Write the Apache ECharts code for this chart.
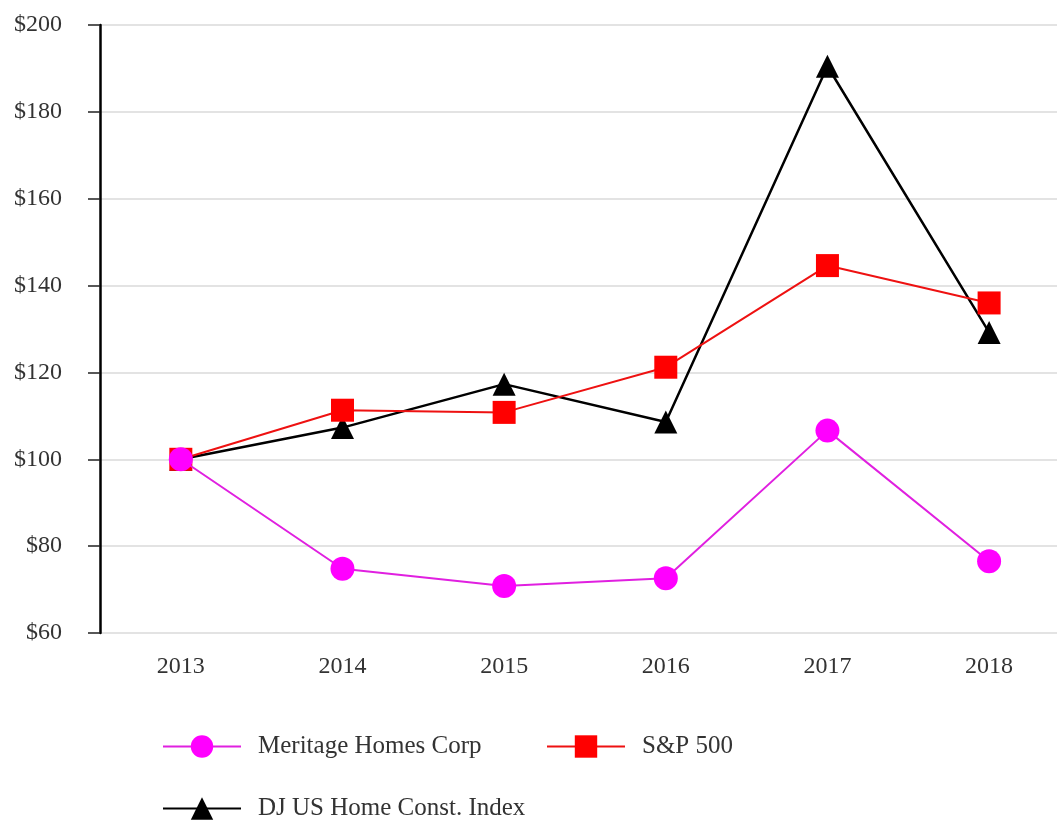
<!DOCTYPE html>
<html>
<head>
<meta charset="utf-8">
<script src="https://cdn.jsdelivr.net/npm/echarts@6/dist/echarts.min.js"></script>
<style>
  html, body { margin: 0; padding: 0; background: #fff; }
  #main { width: 1057px; height: 821px; }
</style>
</head>
<body>
<div id="main"></div>
<script>
const years = ['2013', '2014', '2015', '2016', '2017', '2018'];
const meritage = [100, 74.8, 70.8, 72.6, 106.6, 76.5];
const sp500 = [100, 111.3, 110.8, 121.2, 144.6, 136.0];
const djHome = [100, 107.3, 117.3, 108.6, 190.5, 129.2];

const serif = 'Liberation Serif, Times New Roman, serif';

const chartDom = document.getElementById('main');
const myChart = echarts.init(chartDom);

// 年份轉成數值座標
const toPairs = (vals) => vals.map((v, i) => [Number(years[i]), v]);

// 圖例各自定位
const legendBase = {
  orient: 'horizontal',
  padding: 0,
  itemWidth: 78,
  itemHeight: 28,
  itemGap: 0,
  textStyle: { fontFamily: serif, fontSize: 25, color: '#333', padding: [0, 0, 0, 12] }
};

const option = {
  animation: false,
  legend: [
    Object.assign({}, legendBase, { left: 162, top: 734, data: ['Meritage Homes Corp'] }),
    Object.assign({}, legendBase, { left: 546, top: 734, data: ['S&P 500'] }),
    Object.assign({}, legendBase, { left: 162, top: 796, data: ['DJ US Home Const. Index'] })
  ],
  grid: {
    left: 100,
    right: 0,
    top: 25,
    bottom: 188
  },
  xAxis: {
    type: 'value',
    min: 2012.5,
    max: 2018.42,
    axisLine: { show: false },
    axisTick: { show: false },
    splitLine: { show: false },
    axisLabel: {
      fontFamily: serif, fontSize: 24, color: '#333', margin: 22,
      customValues: years.map(Number),
      formatter: (v) => String(v)
    }
  },
  yAxis: {
    type: 'value',
    min: 60,
    max: 200,
    interval: 20,
    axisLine: { show: true, lineStyle: { color: '#000', width: 2.5 } },
    axisTick: { show: true, length: 12, lineStyle: { color: '#222', width: 1.5 } },
    axisLabel: {
      fontFamily: serif, fontSize: 24, color: '#333', margin: 38,
      formatter: (v) => '$' + v
    },
    splitLine: { lineStyle: { color: '#e3e3e3', width: 2 } }
  },
  series: [
    {
      name: 'DJ US Home Const. Index',
      type: 'line',
      data: toPairs(djHome),
      symbol: 'triangle',
      symbolSize: 23,
      z: 2,
      lineStyle: { color: '#000', width: 2.5 },
      itemStyle: { color: '#000' }
    },
    {
      name: 'S&P 500',
      type: 'line',
      data: toPairs(sp500),
      symbol: 'rect',
      symbolSize: 23,
      z: 3,
      lineStyle: { color: '#ee1111', width: 2 },
      itemStyle: { color: '#ff0000' }
    },
    {
      name: 'Meritage Homes Corp',
      type: 'line',
      data: toPairs(meritage),
      symbol: 'circle',
      symbolSize: 24,
      z: 4,
      lineStyle: { color: '#e020e0', width: 2 },
      itemStyle: { color: '#ff00ff' }
    }
  ]
};

option && myChart.setOption(option);
</script>
</body>
</html>
